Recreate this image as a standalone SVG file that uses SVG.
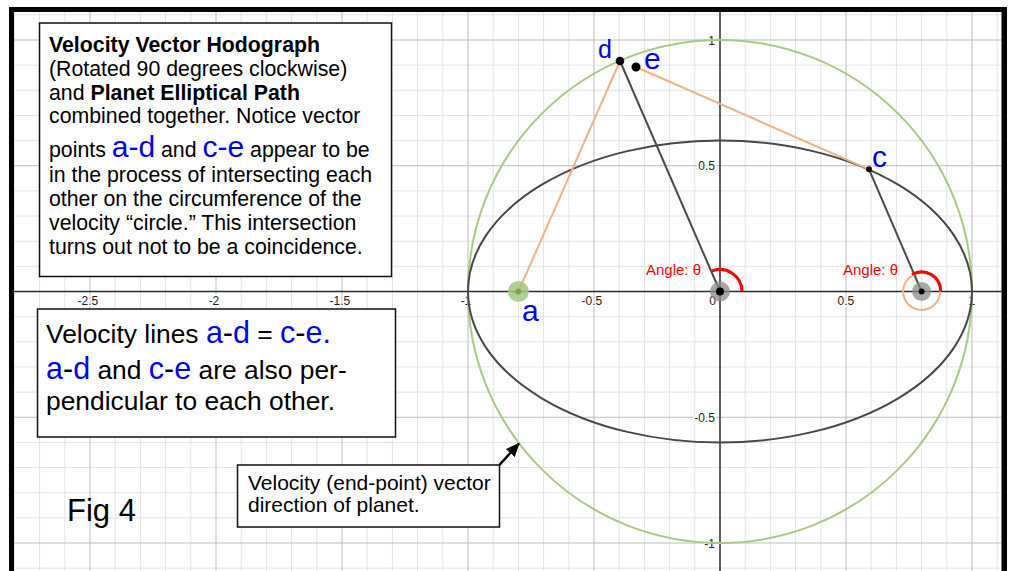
<svg xmlns="http://www.w3.org/2000/svg" width="1011" height="571" viewBox="0 0 1011 571">
<style>
.minor{stroke:#e3e3e3;stroke-width:1;fill:none}
.major{stroke:#bdbdbd;stroke-width:1;fill:none}
.axis{stroke:#2b2b2b;stroke-width:1.5;fill:none}
.tick{font-family:"Liberation Sans",Arial,sans-serif;font-size:12px;fill:#222;stroke:#fff;stroke-width:3;paint-order:stroke;stroke-linejoin:round}
.box{fill:#fff;stroke:#111;stroke-width:1.5}
.t{font-family:"Liberation Sans",Arial,sans-serif;fill:#000}
.blue{fill:#0000ff}
.orange{stroke:#f1b383;stroke-width:2;fill:none}
.dark{stroke:#4a4a4a;stroke-width:2;fill:none}
.red{stroke:#ff0000;stroke-width:3;fill:none}
.ang{font-family:"Liberation Sans",Arial,sans-serif;font-size:15px;fill:#ff0000}
.lbl{font-family:"Liberation Sans",Arial,sans-serif;fill:#0000ff}
</style>
<defs>
<clipPath id="inner"><rect x="14" y="12" width="987.5" height="559"/></clipPath>
<marker id="ah" markerUnits="userSpaceOnUse" markerWidth="14" markerHeight="12" refX="13" refY="6" orient="auto">
<path d="M0,0 L14,6 L0,12 z" fill="#000"/>
</marker>
</defs>
<rect width="1011" height="571" fill="#fff"/>
<g id="grid" clip-path="url(#inner)">
<path class="minor" d="M14.4 12V571M39.6 12V571M64.8 12V571M115.2 12V571M140.4 12V571M165.6 12V571M190.8 12V571M241.2 12V571M266.4 12V571M291.6 12V571M316.8 12V571M367.2 12V571M392.4 12V571M417.6 12V571M442.8 12V571M493.2 12V571M518.4 12V571M543.6 12V571M568.8 12V571M619.2 12V571M644.4 12V571M669.6 12V571M694.8 12V571M745.2 12V571M770.4 12V571M795.6 12V571M820.8 12V571M871.2 12V571M896.4 12V571M921.6 12V571M946.8 12V571M997.2 12V571
M14 14.85H1002M14 65.15H1002M14 90.3H1002M14 115.45H1002M14 140.6H1002M14 190.9H1002M14 216.05H1002M14 241.2H1002M14 266.35H1002M14 316.65H1002M14 341.8H1002M14 366.95H1002M14 392.1H1002M14 442.4H1002M14 467.55H1002M14 492.7H1002M14 517.85H1002M14 568.15H1002"/>
<path class="major" d="M90 12V571M216 12V571M342 12V571M468 12V571M594 12V571M846 12V571M972 12V571M14 40H1002M14 165.75H1002M14 417.25H1002M14 543H1002"/>
<path class="axis" d="M720 12V571M14 291.5H1002"/>
</g>
<g id="ticks">
<text class="tick" x="98.3" y="305" text-anchor="end">-2.5</text>
<text class="tick" x="219.3" y="305" text-anchor="end">-2</text>
<text class="tick" x="350.3" y="305" text-anchor="end">-1.5</text>
<text class="tick" x="471.3" y="305" text-anchor="end">-1</text>
<text class="tick" x="602.3" y="305" text-anchor="end">-0.5</text>
<text class="tick" x="716" y="305" text-anchor="end">0</text>
<text class="tick" x="854.3" y="305" text-anchor="end">0.5</text>
<text class="tick" x="975.3" y="305" text-anchor="end">1</text>
<text class="tick" x="715" y="44.5" text-anchor="end">1</text>
<text class="tick" x="715" y="170" text-anchor="end">0.5</text>
<text class="tick" x="715" y="421.5" text-anchor="end">-0.5</text>
<text class="tick" x="715" y="547.5" text-anchor="end">-1</text>
</g>
<g id="velocity-circle">
<ellipse cx="720" cy="291.5" rx="252" ry="251.5" fill="none" stroke="#a9c982" stroke-width="2"/>
</g>
<g id="planet-ellipse">
<ellipse cx="720" cy="291.5" rx="252" ry="151" fill="none" stroke="#474747" stroke-width="2"/>
</g>
<g id="connectors">
<line class="orange" x1="518.4" y1="291.5" x2="620" y2="61"/>
<line class="orange" x1="636" y1="67" x2="869" y2="169.3"/>
<line class="dark" x1="720" y1="291.5" x2="620" y2="61"/>
<line class="dark" x1="921.6" y1="291.5" x2="869" y2="169.3"/>
<line x1="499.3" y1="465" x2="519" y2="443.5" stroke="#000" stroke-width="2.5" marker-end="url(#ah)"/>
</g>
<g id="origin-point">
<circle cx="720" cy="291.5" r="10" fill="#8a8a8a" fill-opacity="0.75"/>
<circle cx="720" cy="291.5" r="4" fill="#000"/>
<path class="red" d="M742 291.5A22 22 0 0 0 711.3 271.3"/>
<text class="ang" x="646" y="275">Angle: θ</text>
</g>
<g id="focus-point">
<circle cx="921.6" cy="291.5" r="18.5" fill="none" stroke="#f1b383" stroke-width="2"/>
<circle cx="921.6" cy="291.5" r="9.5" fill="#8a8a8a" fill-opacity="0.75"/>
<circle cx="921.6" cy="291.5" r="3" fill="#000"/>
<path class="red" d="M940.6 291.5A19 19 0 0 0 912 274.5"/>
<text class="ang" x="843" y="275">Angle: θ</text>
</g>
<g id="point-a">
<circle cx="518.4" cy="291.5" r="10.5" fill="#a3c77e" fill-opacity="0.85"/>
<circle cx="518.4" cy="291.5" r="3" fill="#78a84a"/>
<text class="lbl" x="522" y="320.5" font-size="30">a</text>
</g>
<g id="point-c">
<circle cx="869" cy="169.3" r="3" fill="#111"/>
<text class="lbl" x="872" y="166.5" font-size="30">c</text>
</g>
<g id="point-d">
<circle cx="620" cy="61" r="4.3" fill="#000"/>
<text class="lbl" x="598" y="58.3" font-size="25">d</text>
</g>
<g id="point-e">
<circle cx="636" cy="67" r="4.5" fill="#000"/>
<text class="lbl" x="644" y="69.3" font-size="30">e</text>
</g>
<g id="box-hodograph">
<rect class="box" x="39.5" y="23" width="352" height="253.5"/>
<text class="t" font-size="21.3" x="49">
<tspan x="49" y="52" font-weight="bold">Velocity Vector Hodograph</tspan>
<tspan x="49" y="76">(Rotated 90 degrees clockwise)</tspan>
<tspan x="49" y="99.5">and <tspan font-weight="bold">Planet Elliptical Path</tspan></tspan>
<tspan x="49" y="123">combined together. Notice vector</tspan>
<tspan x="49" y="157">points <tspan class="blue" font-size="30">a-d</tspan> and <tspan class="blue" font-size="30">c-e</tspan> appear to be</tspan>
<tspan x="49" y="181.5">in the process of intersecting each</tspan>
<tspan x="49" y="205.5">other on the circumference of the</tspan>
<tspan x="49" y="229.5">velocity “circle.” This intersection</tspan>
<tspan x="49" y="253.5">turns out not to be a coincidence.</tspan>
</text>
</g>
<g id="box-velocity-lines">
<rect class="box" x="37.5" y="309" width="358" height="128"/>
<text class="t" font-size="26.4">
<tspan x="46" y="343">Velocity lines <tspan class="blue" font-size="30.5">a</tspan><tspan font-size="30.5">-</tspan><tspan class="blue" font-size="30.5">d</tspan> = <tspan class="blue" font-size="30.5">c</tspan><tspan font-size="30.5">-</tspan><tspan class="blue" font-size="30.5">e.</tspan></tspan>
<tspan x="46" y="379"><tspan class="blue" font-size="30.5">a</tspan><tspan font-size="30.5">-</tspan><tspan class="blue" font-size="30.5">d</tspan> and <tspan class="blue" font-size="30.5">c</tspan><tspan font-size="30.5">-</tspan><tspan class="blue" font-size="30.5">e</tspan> are also per-</tspan>
<tspan x="46" y="410">pendicular to each other.</tspan>
</text>
</g>
<g id="box-direction">
<rect class="box" x="237.5" y="465" width="262" height="62"/>
<text class="t" font-size="21">
<tspan x="248" y="490">Velocity (end-point) vector</tspan>
<tspan x="248" y="512">direction of planet.</tspan>
</text>
</g>
<g id="fig-label">
<text class="t" font-size="31" x="67" y="521">Fig 4</text>
</g>
<g id="frame" fill="#000">
<rect x="9" y="7" width="998" height="5"/>
<rect x="9" y="7" width="5" height="564"/>
<rect x="1001.5" y="7" width="5.5" height="564"/>
</g>
</svg>
